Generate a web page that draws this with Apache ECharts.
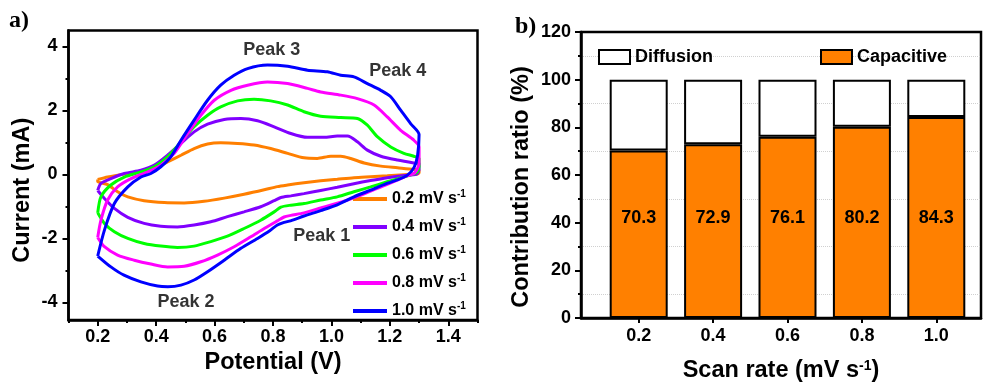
<!DOCTYPE html>
<html><head><meta charset="utf-8">
<script src="https://cdn.jsdelivr.net/npm/echarts@6/dist/echarts.min.js"></script>
<style>html,body{margin:0;padding:0;background:#fff}#c{width:983px;height:388px}</style>
</head><body><div id="c"></div>
<script>
// ---------- Panel a) CV curves: [potential V, current mA] ----------
const scanRates = ['0.2', '0.4', '0.6', '0.8', '1.0'];
const cv02 = [[0.2,-0.16],[0.234,-0.08],[0.291,0.01],[0.348,0.08],[0.394,0.19],[0.439,0.39],[0.485,0.6],[0.53,0.81],[0.576,0.95],[0.621,0.99],[0.679,0.97],[0.735,0.92],[0.792,0.81],[0.85,0.66],[0.906,0.52],[0.952,0.5],[0.998,0.57],[1.032,0.57],[1.066,0.5],[1.112,0.36],[1.169,0.26],[1.226,0.21],[1.282,0.16],[1.3,0.13],[1.3,0.05],[1.294,0.01],[1.248,-0.01],[1.191,-0.04],[1.134,-0.07],[1.077,-0.1],[1.02,-0.15],[0.963,-0.2],[0.906,-0.26],[0.85,-0.33],[0.815,-0.38],[0.77,-0.48],[0.701,-0.62],[0.633,-0.74],[0.564,-0.84],[0.496,-0.89],[0.428,-0.88],[0.359,-0.82],[0.303,-0.7],[0.268,-0.54],[0.234,-0.32],[0.2,-0.22],[0.2,-0.16]];
const cv04 = [[0.2,-0.5],[0.211,-0.28],[0.245,-0.13],[0.291,0.03],[0.348,0.13],[0.394,0.29],[0.439,0.6],[0.485,0.97],[0.53,1.33],[0.576,1.57],[0.633,1.72],[0.69,1.75],[0.747,1.68],[0.804,1.49],[0.861,1.28],[0.918,1.16],[0.975,1.16],[1.02,1.2],[1.055,1.2],[1.089,1.02],[1.123,0.76],[1.169,0.57],[1.226,0.45],[1.282,0.36],[1.3,0.34],[1.3,0.15],[1.29,0.0],[1.248,-0.03],[1.191,-0.1],[1.134,-0.19],[1.077,-0.29],[1.02,-0.4],[0.963,-0.5],[0.906,-0.6],[0.861,-0.67],[0.827,-0.72],[0.804,-0.82],[0.758,-1.01],[0.701,-1.17],[0.644,-1.32],[0.587,-1.48],[0.53,-1.58],[0.473,-1.64],[0.416,-1.62],[0.359,-1.53],[0.303,-1.34],[0.257,-1.06],[0.223,-0.75],[0.2,-0.5]];
const cv06 = [[0.2,-1.2],[0.211,-0.7],[0.245,-0.33],[0.291,-0.08],[0.348,0.08],[0.394,0.24],[0.439,0.55],[0.485,1.02],[0.53,1.49],[0.576,1.85],[0.621,2.11],[0.679,2.3],[0.735,2.35],[0.792,2.3],[0.85,2.17],[0.906,1.96],[0.963,1.82],[1.032,1.78],[1.089,1.75],[1.123,1.54],[1.157,1.18],[1.203,0.86],[1.248,0.66],[1.282,0.57],[1.3,0.5],[1.3,0.25],[1.294,0.08],[1.27,-0.02],[1.248,-0.08],[1.191,-0.23],[1.134,-0.39],[1.077,-0.54],[1.02,-0.7],[0.963,-0.8],[0.906,-0.91],[0.861,-0.96],[0.827,-1.02],[0.804,-1.17],[0.758,-1.43],[0.701,-1.69],[0.644,-1.93],[0.587,-2.1],[0.53,-2.24],[0.473,-2.28],[0.416,-2.24],[0.359,-2.16],[0.303,-2.0],[0.257,-1.79],[0.223,-1.53],[0.2,-1.2]];
const cv08 = [[0.2,-1.97],[0.211,-1.43],[0.234,-0.8],[0.268,-0.39],[0.314,-0.13],[0.371,0.08],[0.416,0.29],[0.462,0.66],[0.508,1.28],[0.553,1.85],[0.599,2.32],[0.656,2.63],[0.713,2.79],[0.781,2.89],[0.85,2.84],[0.918,2.69],[0.963,2.58],[1.032,2.48],[1.089,2.37],[1.146,2.17],[1.191,1.8],[1.237,1.38],[1.282,1.07],[1.3,0.86],[1.3,0.34],[1.285,0.05],[1.26,-0.04],[1.191,-0.31],[1.134,-0.52],[1.077,-0.73],[1.02,-0.9],[0.963,-1.05],[0.906,-1.2],[0.861,-1.28],[0.838,-1.33],[0.815,-1.45],[0.77,-1.69],[0.724,-1.95],[0.667,-2.26],[0.61,-2.52],[0.553,-2.73],[0.496,-2.87],[0.439,-2.89],[0.382,-2.8],[0.325,-2.68],[0.268,-2.52],[0.223,-2.26],[0.2,-1.97]];
const cv10 = [[0.2,-2.55],[0.223,-1.74],[0.257,-0.91],[0.303,-0.39],[0.348,-0.08],[0.382,0.03],[0.416,0.24],[0.45,0.55],[0.485,1.07],[0.53,1.7],[0.576,2.32],[0.621,2.79],[0.667,3.1],[0.713,3.31],[0.781,3.42],[0.85,3.38],[0.918,3.26],[0.986,3.21],[1.032,3.1],[1.077,3.05],[1.123,2.84],[1.169,2.63],[1.203,2.43],[1.237,2.01],[1.271,1.59],[1.3,1.25],[1.295,0.6],[1.283,0.22],[1.26,-0.02],[1.225,-0.17],[1.19,-0.28],[1.134,-0.49],[1.077,-0.7],[1.02,-0.95],[0.963,-1.13],[0.906,-1.3],[0.86,-1.45],[0.838,-1.5],[0.815,-1.58],[0.79,-1.75],[0.747,-2.0],[0.69,-2.31],[0.633,-2.68],[0.576,-3.04],[0.53,-3.3],[0.485,-3.46],[0.44,-3.51],[0.405,-3.49],[0.348,-3.36],[0.29,-3.15],[0.245,-2.89],[0.2,-2.55]];
const cvCurves = [cv02, cv04, cv06, cv08, cv10];
const cvColors = ['#FF7F00', '#8000FF', '#00FF00', '#FF00FF', '#0000FF'];
const peakLabels = ['Peak 1', 'Peak 2', 'Peak 3', 'Peak 4'];
const peakAnchors = [[0.967,-1.93],[0.502,-3.99],[0.796,3.88],[1.227,3.23]];
const cvXTicks = [0.2, 0.4, 0.6, 0.8, 1.0, 1.2, 1.4];
const cvXMinor = [0.1, 0.3, 0.5, 0.7, 0.9, 1.1, 1.3, 1.5];
const cvYTicks = [-4, -2, 0, 2, 4];
const cvYMinor = [-3, -1, 1, 3];

// ---------- Panel b) contribution bars ----------
const barRates = [0.2, 0.4, 0.6, 0.8, 1.0];
const barCategories = ['0.2', '0.4', '0.6', '0.8', '1.0'];
const capacitive = [70.3, 72.9, 76.1, 80.2, 84.3];
const diffusion = [29.7, 27.1, 23.9, 19.8, 15.7];

const FONT = 'Liberation Sans';
const BLACK = '#000';
const axisLine = { show: true, onZero: false, lineStyle: { color: BLACK, width: 2.5 } };
const tickStyle = { color: BLACK, width: 2 };
const labelStyle = { fontSize: 18, fontWeight: 'bold', color: BLACK, fontFamily: FONT };
const nameStyle = { fontSize: 23.5, fontWeight: 'bold', color: BLACK, fontFamily: FONT };

const chart = echarts.init(document.getElementById('c'));
const series = [];
cvCurves.forEach((d, i) => {
  series.push({
    type: 'line', name: scanRates[i], xAxisIndex: 0, yAxisIndex: 0,
    data: d, showSymbol: false, smooth: 0.25, color: cvColors[i],
    lineStyle: { width: 3, color: cvColors[i] }, z: 3 + i
  });
});
series.push({
  type: 'scatter', name: 'peaks', xAxisIndex: 0, yAxisIndex: 0, symbolSize: 1,
  itemStyle: { color: 'rgba(0,0,0,0)' }, z: 10,
  data: peakAnchors.map((p, i) => ({ value: p, name: peakLabels[i] })),
  label: { show: true, position: 'inside', formatter: '{b}', fontSize: 18, fontWeight: 'bold', color: BLACK, fontFamily: FONT }
});
series.push({
  type: 'bar', name: 'Capacitive', xAxisIndex: 3, yAxisIndex: 3, stack: 'ratio', barWidth: 58,
  data: capacitive,
  itemStyle: { color: '#FF8000', borderColor: BLACK, borderWidth: 2 },
  label: { show: true, position: 'insideBottom', distance: 91, formatter: p => p.value.toFixed(1), fontSize: 18, fontWeight: 'bold', color: BLACK, fontFamily: FONT }
});
series.push({
  type: 'bar', name: 'Diffusion', xAxisIndex: 3, yAxisIndex: 3, stack: 'ratio', barWidth: 58,
  data: diffusion,
  itemStyle: { color: '#FFFFFF', borderColor: BLACK, borderWidth: 2 }
});

const option = {
  animation: false,
  textStyle: { fontFamily: FONT },
  grid: [
    { left: 68.5, top: 30.5, right: 505.5, bottom: 68, show: true, borderColor: BLACK, borderWidth: 2.5, backgroundColor: 'transparent' },
    { left: 581, top: 32, right: 2, bottom: 70, show: true, borderColor: BLACK, borderWidth: 2.5, backgroundColor: 'transparent' },
    { left: 601.5, top: 32, right: 9.5, bottom: 70, show: false }
  ],
  xAxis: [
    { type: 'value', gridIndex: 0, position: 'bottom', min: 0.1, max: 1.5, axisLine,
      axisTick: { show: true, customValues: cvXTicks, length: 6, lineStyle: tickStyle },
      axisLabel: Object.assign({ customValues: cvXTicks, margin: 8, formatter: v => v.toFixed(1) }, labelStyle),
      splitLine: { show: false },
      name: 'Potential (V)', nameLocation: 'middle', nameGap: 30, nameTextStyle: nameStyle },
    { type: 'value', gridIndex: 0, position: 'bottom', min: 0.1, max: 1.5,
      axisLine: { show: false, onZero: false },
      axisTick: { show: true, customValues: cvXMinor, length: 3, lineStyle: tickStyle },
      axisLabel: { show: false }, splitLine: { show: false } },
    { type: 'value', gridIndex: 1, position: 'bottom', min: 0.045, max: 1.12, axisLine,
      axisTick: { show: true, customValues: barRates, length: 5, lineStyle: tickStyle },
      axisLabel: Object.assign({ customValues: barRates, margin: 9, formatter: v => v.toFixed(1) }, labelStyle),
      splitLine: { show: false },
      name: 'Scan rate (mV s{sup|-1})', nameLocation: 'middle', nameGap: 41,
      nameTextStyle: Object.assign({ rich: { sup: { fontSize: 14, fontWeight: 'bold', color: BLACK, fontFamily: FONT, verticalAlign: 'top', lineHeight: 12 } } }, nameStyle) },
    { type: 'category', gridIndex: 2, data: barCategories, show: false, boundaryGap: true }
  ],
  yAxis: [
    { type: 'value', gridIndex: 0, position: 'left', min: -4.55, max: 4.5, axisLine,
      axisTick: { show: true, customValues: cvYTicks, length: 6, lineStyle: tickStyle },
      axisLabel: Object.assign({ customValues: cvYTicks, margin: 11 }, labelStyle),
      splitLine: { show: false },
      name: 'Current (mA)', nameLocation: 'middle', nameGap: 34, nameRotate: 90,
      nameTextStyle: Object.assign({ padding: [0, 30, 0, 0] }, nameStyle) },
    { type: 'value', gridIndex: 0, position: 'left', min: -4.55, max: 4.5,
      axisLine: { show: false, onZero: false },
      axisTick: { show: true, customValues: cvYMinor, length: 3, lineStyle: tickStyle },
      axisLabel: { show: false }, splitLine: { show: false } },
    { type: 'value', gridIndex: 1, position: 'left', min: 0, max: 120, interval: 20, axisLine,
      axisTick: { show: true, length: 6, lineStyle: tickStyle },
      minorTick: { show: true, splitNumber: 2, length: 3, lineStyle: tickStyle },
      minorSplitLine: { show: true, lineStyle: { color: '#d0d0d0', type: 'dotted', width: 1 } },
      axisLabel: Object.assign({ margin: 10 }, labelStyle),
      splitLine: { show: false },
      name: 'Contribution ratio (%)', nameLocation: 'middle', nameGap: 47, nameRotate: 90,
      nameTextStyle: Object.assign({ padding: [0, 24, 0, 0] }, nameStyle) },
    { type: 'value', gridIndex: 2, min: 0, max: 120, interval: 20, show: false, splitLine: { show: false } }
  ],
  legend: [
    { data: scanRates, orient: 'vertical', left: 348, top: 184, padding: 5, icon: 'rect', itemWidth: 34, itemHeight: 4, itemGap: 8,
      formatter: n => n + ' mV s{sup|-1}', selectedMode: false,
      textStyle: { fontSize: 16, fontWeight: 'bold', color: BLACK, fontFamily: FONT, lineHeight: 20,
        rich: { sup: { fontSize: 10, fontWeight: 'bold', color: BLACK, fontFamily: FONT, verticalAlign: 'top', lineHeight: 10 } } } },
    { data: ['Diffusion'], left: 593, top: 43, icon: 'rect', itemWidth: 31, itemHeight: 14, selectedMode: false,
      itemStyle: { borderColor: BLACK, borderWidth: 2 },
      textStyle: { fontSize: 18, fontWeight: 'bold', color: BLACK, fontFamily: FONT } },
    { data: ['Capacitive'], left: 815, top: 43, icon: 'rect', itemWidth: 31, itemHeight: 14, selectedMode: false,
      itemStyle: { borderColor: BLACK, borderWidth: 2 },
      textStyle: { fontSize: 18, fontWeight: 'bold', color: BLACK, fontFamily: FONT } }
  ],
  graphic: [
    { type: 'text', left: 9, top: 9, style: { text: 'a)', fontSize: 24, fontWeight: 'bold', fontFamily: 'Liberation Serif', fill: BLACK } },
    { type: 'text', left: 515, top: 15, style: { text: 'b)', fontSize: 24, fontWeight: 'bold', fontFamily: 'Liberation Serif', fill: BLACK } }
  ],
  series
};
chart.setOption(option);
</script></body></html>
